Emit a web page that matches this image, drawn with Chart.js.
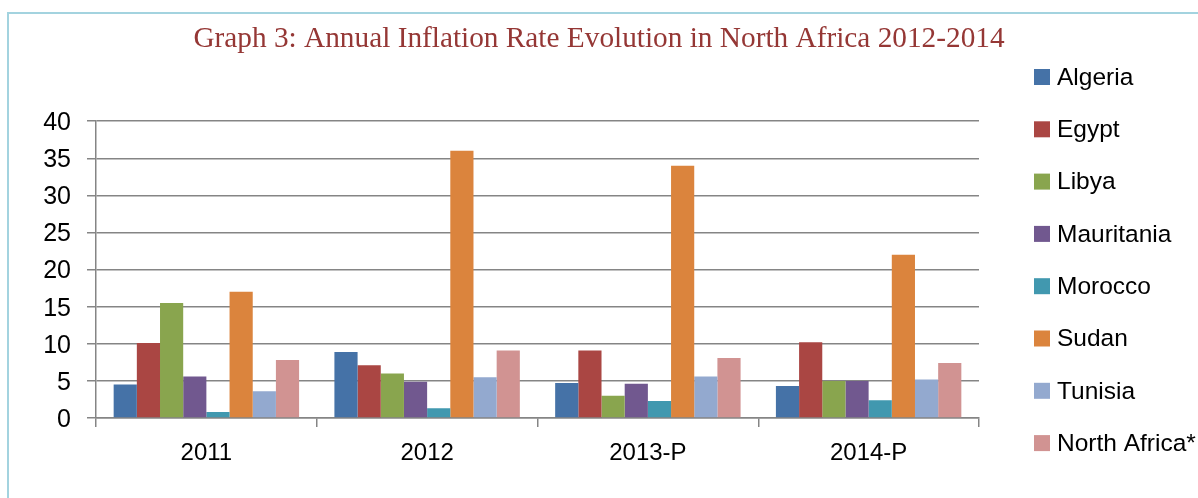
<!DOCTYPE html>
<html>
<head>
<meta charset="utf-8">
<title>Graph 3: Annual Inflation Rate Evolution in North Africa 2012-2014</title>
<script src="https://cdn.jsdelivr.net/npm/chart.js"></script>
<style>
	html, body { margin: 0; padding: 0; background: #fff; overflow: hidden; }
	#wrap { position: relative; width: 1198px; height: 498px; }
	#frame {
		position: absolute; left: 7px; top: 12px; width: 1300px; height: 600px;
		border-left: 2px solid #a3d3df; border-top: 2px solid #a3d3df;
	}
</style>
</head>
<body>
<div id="wrap">
	<div id="frame"></div>
	<canvas id="inflationChart"></canvas>
</div>
<script>
	const years = ["2011", "2012", "2013-P", "2014-P"];

	const algeria = [4.5, 8.9, 4.7, 4.3];
	const egypt = [10.1, 7.1, 9.1, 10.2];
	const libya = [15.5, 6.0, 3.0, 5.0];
	const mauritania = [5.6, 4.9, 4.6, 5.0];
	const morocco = [0.8, 1.3, 2.3, 2.4];
	const sudan = [17.0, 36.0, 34.0, 22.0];
	const tunisia = [3.6, 5.5, 5.6, 5.2];
	const northAfrica = [7.8, 9.1, 8.1, 7.4];

	const series = [
		{ label: "Algeria", data: algeria, color: "#4572a7" },
		{ label: "Egypt", data: egypt, color: "#aa4643" },
		{ label: "Libya", data: libya, color: "#89a54e" },
		{ label: "Mauritania", data: mauritania, color: "#71588f" },
		{ label: "Morocco", data: morocco, color: "#4198af" },
		{ label: "Sudan", data: sudan, color: "#db843d" },
		{ label: "Tunisia", data: tunisia, color: "#93a9cf" },
		{ label: "North Africa*", data: northAfrica, color: "#d19392" },
	];

	const GRID = "#858585";
	const SANS = "'Liberation Sans', Arial, sans-serif";

	// legend drawn in the space kept free on the right
	const sideLegend = {
		id: "sideLegend",
		afterDraw(chart) {
			const ctx = chart.ctx;
			ctx.save();
			ctx.font = "24.5px " + SANS;
			ctx.textBaseline = "middle";
			chart.data.datasets.forEach((ds, i) => {
				const cy = 77 + i * 52.3;
				ctx.fillStyle = ds.backgroundColor;
				ctx.fillRect(1034, cy - 8, 16, 16);
				ctx.fillStyle = "#000";
				ctx.fillText(ds.label, 1057, cy + 1);
			});
			ctx.restore();
		},
	};

	new Chart(document.getElementById("inflationChart"), {
		type: "bar",
		data: {
			labels: years,
			datasets: series.map((s) => ({
				label: s.label,
				data: s.data,
				backgroundColor: s.color,
				borderWidth: 0,
				categoryPercentage: 0.84,
				barPercentage: 1.0,
				yAxisID: "y",
			})),
		},
		options: {
			responsive: true,
			maintainAspectRatio: false,
			animation: false,
			layout: { padding: 0 },
			plugins: {
				legend: { display: false },
				tooltip: { enabled: false },
				title: {
					display: true,
					text: "Graph 3: Annual Inflation Rate Evolution in North Africa 2012-2014",
					color: "#953735",
					font: { family: "'Liberation Serif', 'Times New Roman', serif", size: 29.3, weight: "normal" },
					padding: { top: 22, bottom: 64 },
				},
			},
			scales: {
				x: {
					grid: {
						drawOnChartArea: false,
						drawTicks: true,
						tickLength: 9,
						color: GRID,
						lineWidth: 1.5,
					},
					border: { display: true, color: GRID, width: 1.5 },
					ticks: { color: "#000", font: { family: SANS, size: 24 }, padding: 12 },
					afterFit(scale) {
						scale.height = 80;
					},
				},
				y: {
					min: 0,
					max: 40,
					ticks: { stepSize: 5, color: "#000", font: { family: SANS, size: 25 }, padding: 16, labelOffset: 2 },
					grid: { color: GRID, lineWidth: 1.5, tickLength: 9 },
					border: { display: true, color: GRID, width: 1.5 },
					afterFit(scale) {
						scale.width = 96;
					},
				},
				spacer: {
					type: "linear",
					position: "right",
					grid: { display: false },
					ticks: { display: false },
					border: { display: false },
					afterFit(scale) {
						scale.width = 219;
					},
				},
			},
		},
		plugins: [sideLegend],
	});
</script>
</body>
</html>
